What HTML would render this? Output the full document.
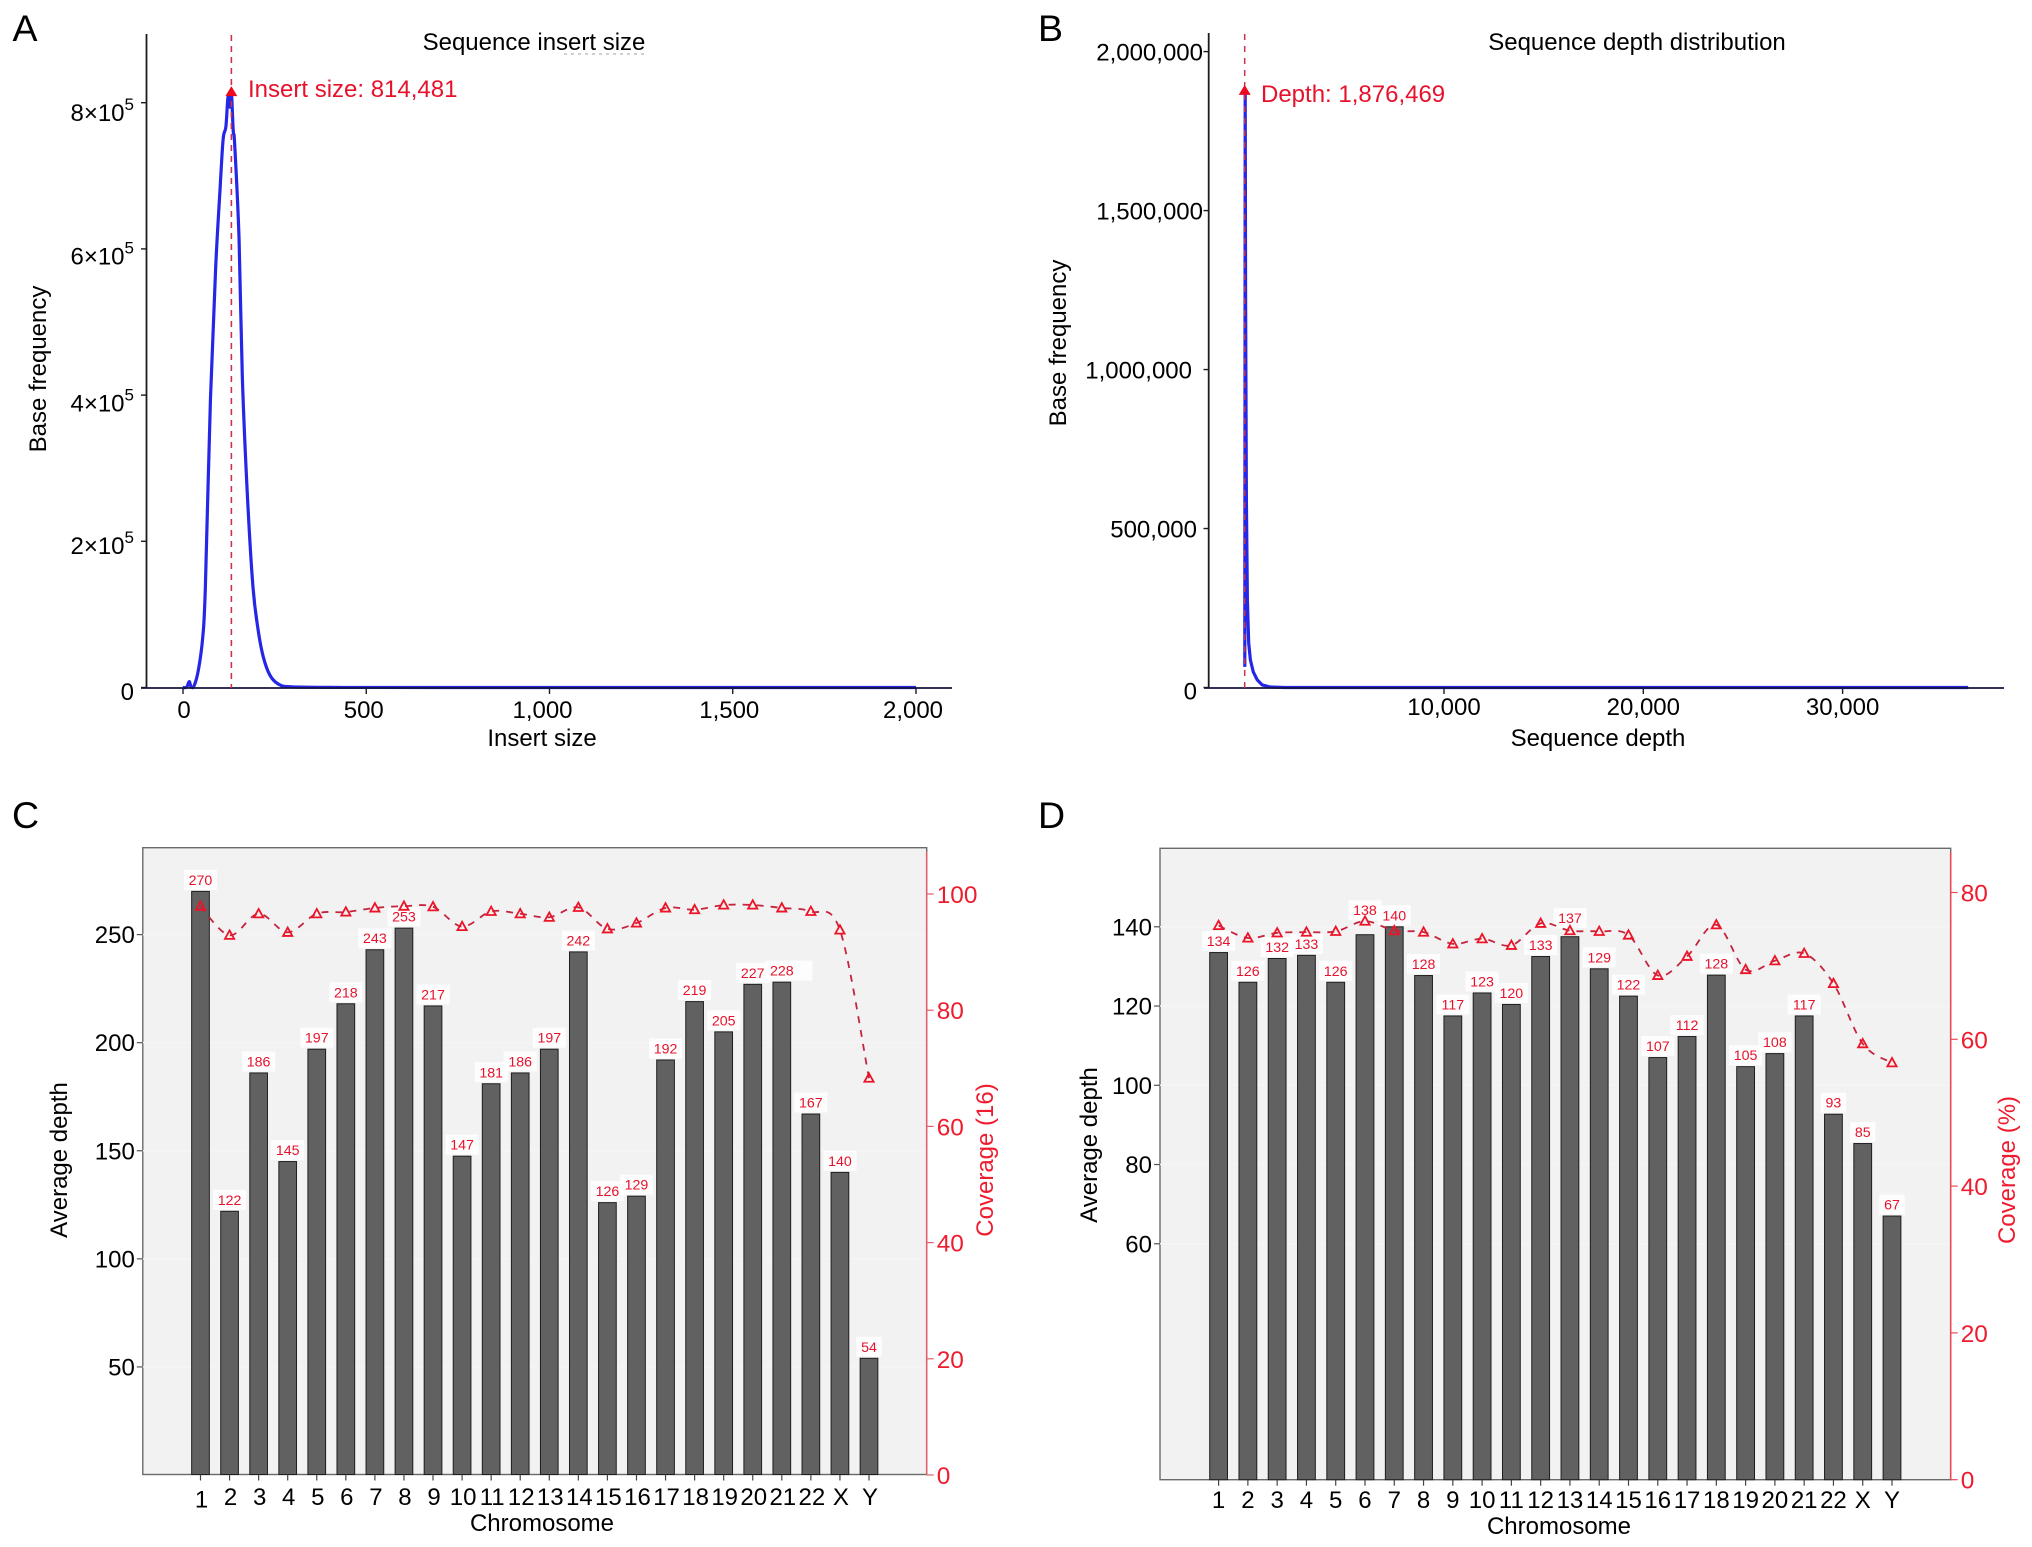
<!DOCTYPE html>
<html lang="en">
<head>
<meta charset="utf-8">
<title>Sequencing quality charts</title>
<style>
html,body{margin:0;padding:0;background:#fff;}
svg{display:block;font-family:"Liberation Sans",Arial,sans-serif;}
</style>
</head>
<body>
<svg id="figure" xmlns="http://www.w3.org/2000/svg" width="2032" height="1547" viewBox="0 0 2032 1547">
  <rect x="0" y="0" width="2032" height="1547" fill="#ffffff"/>
  <text x="12.5" y="41" font-size="37.5">A</text>
  <text x="1038" y="41" font-size="37.5">B</text>
  <text x="12" y="828" font-size="37.5">C</text>
  <text x="1038" y="828" font-size="37.5">D</text>
  <text x="534" y="50" font-size="24" text-anchor="middle">Sequence insert size</text>
  <line x1="564" y1="54" x2="647" y2="54" stroke="#b5b5b5" stroke-width="1.2" stroke-dasharray="3 4"/>
  <text x="1637" y="50" font-size="24" text-anchor="middle">Sequence depth distribution</text>
  <text x="542" y="746" font-size="24" text-anchor="middle">Insert size</text>
  <text x="1598" y="746" font-size="24" text-anchor="middle">Sequence depth</text>
  <text font-size="24" text-anchor="middle" transform="translate(46 369) rotate(-90)">Base frequency</text>
  <text font-size="24" text-anchor="middle" transform="translate(1066 343) rotate(-90)">Base frequency</text>
  <text x="542" y="1531" font-size="24" text-anchor="middle">Chromosome</text>
  <text x="1559" y="1534" font-size="24" text-anchor="middle">Chromosome</text>
  <text font-size="24" text-anchor="middle" transform="translate(67 1160) rotate(-90)">Average depth</text>
  <text font-size="24" text-anchor="middle" transform="translate(1097 1145) rotate(-90)">Average depth</text>
  <text font-size="24" fill="#ee1c2e" text-anchor="middle" transform="translate(993 1160) rotate(-90)">Coverage (16)</text>
  <text font-size="24" fill="#ee1c2e" text-anchor="middle" transform="translate(2015 1170) rotate(-90)">Coverage (%)</text>
  <text x="248" y="97" font-size="24" fill="#e6122c">Insert size: 814,481</text>
  <text x="1261" y="102" font-size="24" fill="#e6122c">Depth: 1,876,469</text>
</svg>
<script>
// Panel A data
const insertSizes = [0,10,17,22,30,42,54,61,75,89,101,109.5,117,122,125.5,128,132,137,141,153,162,176,191,205,219,237,260,292,400,700,2000];
const insertFreq = [0,500,8000,1000,2000,24000,69500,137000,396000,573000,681000,750000,767000,804000,810000,794000,814481,762000,743000,613000,423000,260000,137000,78700,42000,17000,4700,1000,200,0,0];
const insertXTicks = [0,500,1000,1500,2000];
const insertXLabels = ['0','500','1,000','1,500','2,000'];
const insertYMantissa = [2,4,6,8];
const insertPeakX = 132;
const insertPeakY = 814481;
// Panel B data
const depthValues = [5,25,45,85,135,200,285,430,630,880,1280,2000,36300];
const depthFreq = [65000,1876469,1219000,590000,276000,140000,87000,49000,24000,8000,1500,0,0];
const depthXTicks = [10000,20000,30000];
const depthXLabels = ['10,000','20,000','30,000'];
const depthYTicks = [0,500000,1000000,1500000,2000000];
const depthYLabels = ['0','500,000','1,000,000','1,500,000','2,000,000'];
const depthPeakX = 0;
const depthPeakY = 1876469;
// Panels C and D data
const chromosomes = ['1','2','3','4','5','6','7','8','9','10','11','12','13','14','15','16','17','18','19','20','21','22','X','Y'];
const depthC = [270,122,186,145,197,218,243,253,217,147.5,181,186,197,242,126,129,192,219,205,227,228,167,140,54];
const depthLabelsC = ['270','122','186','145','197','218','243','253','217','147','181','186','197','242','126','129','192','219','205','227','228','167','140','54'];
const coverageC = [97.9,92.9,96.6,93.4,96.6,96.9,97.6,97.9,97.8,94.4,97,96.6,96,97.7,94,95,97.6,97.3,98.1,98.1,97.6,97,93.8,68.3];
const leftTicksC = [50,100,150,200,250];
const rightTicksC = [0,20,40,60,80,100];
const depthD = [133.5,126,132,132.8,126,138,140,127.7,117.5,123.3,120.4,132.5,137.5,129.4,122.5,107,112.3,127.8,104.7,108,117.5,92.7,85.3,67];
const depthLabelsD = ['134','126','132','133','126','138','140','128','117','123','120','133','137','129','122','107','112','128','105','108','117','93','85','67'];
const coverageD = [75.5,73.8,74.5,74.6,74.7,76.1,74.8,74.6,73,73.7,72.8,75.8,74.8,74.7,74.2,68.7,71.3,75.6,69.5,70.7,71.7,67.6,59.4,56.8];
const leftTicksD = [60,80,100,120,140];
const rightTicksD = [0,20,40,60,80];

const NS = 'http://www.w3.org/2000/svg';
const svg = document.getElementById('figure');
const RED = '#e6122c';
const AXIS = '#1c1c1c';

function linear(d0, d1, r0, r1) {
  return function (v) { return r0 + (v - d0) / (d1 - d0) * (r1 - r0); };
}
function make(tag, attrs, parent) {
  const el = document.createElementNS(NS, tag);
  for (const k in attrs) el.setAttribute(k, attrs[k]);
  (parent || svg).appendChild(el);
  return el;
}
function drawLine(name, x1, y1, x2, y2, color, width, dash) {
  const attrs = { x1: x1, y1: y1, x2: x2, y2: y2, stroke: color, 'stroke-width': width };
  if (dash) attrs['stroke-dasharray'] = dash;
  const el = make('line', attrs);
  
  
  return el;
}
function drawText(name, x, y, str, size, anchor, color) {
  const el = make('text', { x: x, y: y, 'font-size': size, 'text-anchor': anchor, fill: color || '#000' });
  el.textContent = str;
  
  
  return el;
}
function smoothPath(pts) {
  let d = 'M' + pts[0][0].toFixed(2) + ' ' + pts[0][1].toFixed(2);
  for (let i = 0; i < pts.length - 1; i++) {
    const p0 = pts[Math.max(i - 1, 0)], p1 = pts[i], p2 = pts[i + 1], p3 = pts[Math.min(i + 2, pts.length - 1)];
    const c1x = p1[0] + (p2[0] - p0[0]) / 6, c1y = p1[1] + (p2[1] - p0[1]) / 6;
    const c2x = p2[0] - (p3[0] - p1[0]) / 6, c2y = p2[1] - (p3[1] - p1[1]) / 6;
    d += ' C' + c1x.toFixed(2) + ' ' + c1y.toFixed(2) + ' ' + c2x.toFixed(2) + ' ' + c2y.toFixed(2) + ' ' + p2[0].toFixed(2) + ' ' + p2[1].toFixed(2);
  }
  return d;
}
function straightPath(pts) {
  return pts.map(function (p, i) { return (i ? 'L' : 'M') + p[0].toFixed(2) + ' ' + p[1].toFixed(2); }).join(' ');
}
function drawCurve(name, xs, ys, sx, sy, width, smooth) {
  const pts = xs.map(function (x, i) { return [sx(x), sy(ys[i])]; });
  const el = make('path', { d: smooth ? smoothPath(pts) : straightPath(pts), fill: 'none', stroke: '#2626e6', 'stroke-width': width, 'stroke-linejoin': 'round' });
  
  
  return el;
}
function drawPeakMarker(name, x, y) {
  const el = make('path', { d: 'M' + x + ' ' + (y - 6) + ' L' + (x + 6) + ' ' + (y + 4) + ' L' + (x - 6) + ' ' + (y + 4) + ' Z', fill: '#ee0a1e' });
  
  
  return el;
}

/* Panel A */
(function () {
  const x = linear(0, 2000, 183, 916);
  const y = linear(0, 800000, 687.5, 102.7);
  const xLabelNudge = [1, -2.5, -7, -3.5, -3];
  const yLabelDrop = { 2: 12.5, 4: 16.5, 6: 15.5, 8: 18.5 };
  drawLine('insert-y-axis-line', 146.5, 34, 146.5, 688, AXIS, 1.8);
  insertXTicks.forEach(function (t, i) {
    drawLine('insert-x-tick', x(t), 688, x(t), 694, AXIS, 1.4);
    drawText('insert-x-tick-label', x(t) + xLabelNudge[i], 718, insertXLabels[i], 24, 'middle');
  });
  drawLine('insert-y-tick', 141, y(0), 146.5, y(0), AXIS, 1.4);
  drawText('insert-y-tick-label', 134, 700, '0', 24, 'end');
  insertYMantissa.forEach(function (m) {
    const v = m * 100000;
    drawLine('insert-y-tick', 141, y(v), 146.5, y(v), AXIS, 1.4);
    const t = drawText('insert-y-tick-label', 134, y(v) + yLabelDrop[m], m + '×10', 24, 'end');
    const sup = make('tspan', { 'font-size': 17, dy: -11 }, t);
    sup.textContent = '5';
    
    
  });
  drawCurve('insert-size-curve', insertSizes, insertFreq, x, y, 3.2, true);
  drawLine('insert-x-axis-line', 141, 688, 952, 688, '#14143c', 1.8);
  drawLine('insert-peak-dashed-line', x(insertPeakX), 35, x(insertPeakX), 688, '#c8344e', 1.6, '6 5');
  drawPeakMarker('insert-peak-marker', x(insertPeakX), y(insertPeakY));
})();

/* Panel B */
(function () {
  const x = linear(0, 30000, 1244.7, 1842.6);
  const y = linear(0, 2000000, 687.5, 51.6);
  drawLine('depth-y-axis-line', 1208.7, 33, 1208.7, 688, AXIS, 1.8);
  depthXTicks.forEach(function (t, i) {
    drawLine('depth-x-tick', x(t), 688, x(t), 694, AXIS, 1.4);
    drawText('depth-x-tick-label', x(t), 715, depthXLabels[i], 24, 'middle');
  });
  const labelRight = { 0: 1197, 500000: 1197, 1000000: 1192, 1500000: 1203, 2000000: 1203 };
  depthYTicks.forEach(function (t, i) {
    drawLine('depth-y-tick', 1203.5, y(t), 1208.7, y(t), AXIS, 1.4);
    drawText('depth-y-tick-label', labelRight[t], y(t) + 9 + (t === 0 ? 3 : 0), depthYLabels[i], 24, 'end');
  });
  drawCurve('depth-curve', depthValues, depthFreq, x, y, 3.2, false);
  drawLine('depth-x-axis-line', 1204, 688, 2004, 688, '#14143c', 1.8);
  drawLine('depth-peak-dashed-line', x(depthPeakX), 34, x(depthPeakX), 694, '#c8344e', 1.5, '6 6');
  drawPeakMarker('depth-peak-marker', x(depthPeakX), y(depthPeakY));
})();

/* Panels C and D */
function barPanel(cfg) {
  const frame = make('rect', { x: cfg.left, y: cfg.top, width: cfg.right - cfg.left, height: cfg.bottom - cfg.top, fill: '#f2f2f2', stroke: '#6a6a6a', 'stroke-width': 1.4 });
  
  
  cfg.leftTicks.forEach(function (t) {
    drawLine(cfg.id + '-grid-line', cfg.left, cfg.y(t), cfg.right, cfg.y(t), '#f5f5f5', 1.5);
  });
  chromosomes.forEach(function (c, i) {
    const cx = cfg.x(i);
    const top = cfg.y(cfg.depth[i]);
    const bar = make('rect', { x: cx - cfg.barWidth / 2, y: top, width: cfg.barWidth, height: cfg.bottom - top, fill: '#616161', stroke: '#1e1e1e', 'stroke-width': 1 });
    
    
    drawLine(cfg.id + '-x-tick', cx, cfg.bottom, cx, cfg.bottom + 6, '#444', 1.2);
    drawText(cfg.id + '-x-tick-label', cx + cfg.xLabelNudge, cfg.xLabelY + (cfg.xLabelDrop[c] || 0), c, 24, 'middle');
  });
  chromosomes.forEach(function (c, i) {
    const cx = cfg.x(i);
    const base = cfg.y(cfg.depth[i]) - 6.5 - (cfg.labelLift[c] || 0);
    const w = cfg.labels[i].length * 7.7 + 10 + (cfg.boxExtra[c] || 0);
    const box = make('rect', { x: cx - cfg.labels[i].length * 3.85 - 5, y: base - 15, width: w, height: 20, fill: '#ffffff', 'fill-opacity': 0.85 });
    
    
    drawText(cfg.id + '-value-label', cx, base, cfg.labels[i], 14.2, 'middle', RED);
  });
  const pts = chromosomes.map(function (c, i) { return [cfg.x(i), cfg.y2(cfg.coverage[i])]; });
  const line = make('path', { d: smoothPath(pts), fill: 'none', stroke: '#c4243e', 'stroke-width': 1.8, 'stroke-dasharray': '7 7' });
  
  
  pts.forEach(function (p, i) {
    const tri = make('path', { d: 'M' + p[0] + ' ' + (p[1] - 4.8) + ' L' + (p[0] + 4.6) + ' ' + (p[1] + 3.6) + ' L' + (p[0] - 4.6) + ' ' + (p[1] + 3.6) + ' Z', fill: 'none', stroke: '#ee1428', 'stroke-width': 1.8 });
    
    
  });
  drawLine(cfg.id + '-right-axis-line', cfg.right, cfg.top + 4, cfg.right, cfg.bottom, cfg.rightColor, 1.6);
  cfg.leftTicks.forEach(function (t) {
    drawLine(cfg.id + '-left-tick', cfg.left - 6, cfg.y(t), cfg.left, cfg.y(t), '#555', 1.2);
    drawText(cfg.id + '-left-tick-label', cfg.left - 8, cfg.y(t) + 8.5, String(t), 24, 'end');
  });
  cfg.rightTicks.forEach(function (t) {
    drawLine(cfg.id + '-right-tick', cfg.right, cfg.y2(t), cfg.right + 7, cfg.y2(t), cfg.rightColor, 1.2);
    drawText(cfg.id + '-right-tick-label', cfg.right + 10, cfg.y2(t) + 9, String(t), 24.4, 'start', '#ee1c2e');
  });
}

barPanel({
  id: 'panel-c', left: 142.8, right: 926.7, top: 847.7, bottom: 1474.5,
  x: linear(0, 23, 200.5, 869), y: linear(0, 250, 1475, 934.6), y2: linear(0, 100, 1475, 894),
  barWidth: 17.7, xLabelY: 1505, xLabelNudge: 1, xLabelDrop: { '1': 2.5 },
  depth: depthC, labels: depthLabelsC, coverage: coverageC,
  leftTicks: leftTicksC, rightTicks: rightTicksC, rightColor: '#e2606e',
  labelLift: {}, boxExtra: { '21': 14 }
});
barPanel({
  id: 'panel-d', left: 1160, right: 1950.7, top: 848.3, bottom: 1479.7,
  x: linear(0, 23, 1218.6, 1892), y: linear(0, 140, 1481.5, 926.8), y2: linear(0, 80, 1479.7, 892.5),
  barWidth: 17.8, xLabelY: 1508, xLabelNudge: 0, xLabelDrop: {},
  depth: depthD, labels: depthLabelsD, coverage: coverageD,
  leftTicks: leftTicksD, rightTicks: rightTicksD, rightColor: '#ea4a58',
  labelLift: { '6': 13, '13': 7 }, boxExtra: {}
});
</script>
</body>
</html>
